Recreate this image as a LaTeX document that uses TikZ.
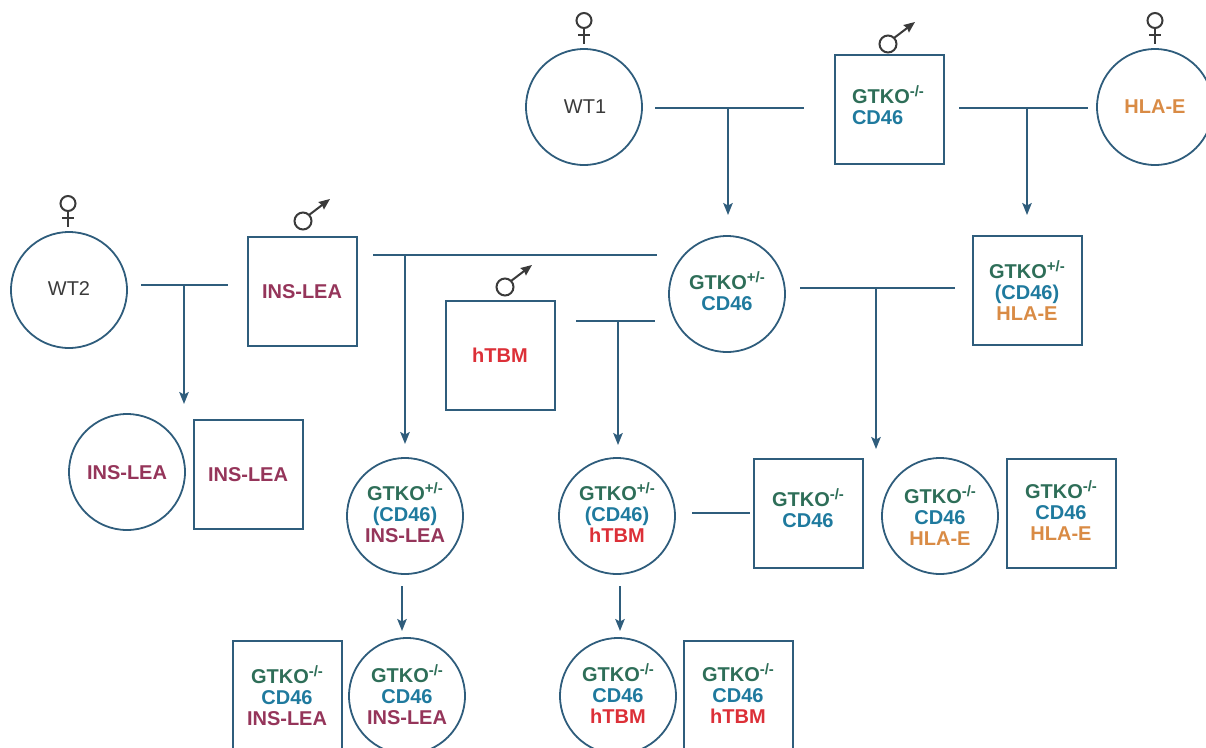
\documentclass[tikz,border=0pt]{standalone}
\usepackage{fontspec}
\setmainfont{Liberation Sans}
\usetikzlibrary{arrows.meta}
\definecolor{ln}{HTML}{2F5D7C}
\definecolor{gt}{HTML}{2E6E58}
\definecolor{cd}{HTML}{1F7A9E}
\definecolor{hla}{HTML}{D98B45}
\definecolor{ins}{HTML}{95355A}
\definecolor{tbm}{HTML}{DC3038}
\definecolor{sym}{HTML}{3A3A3A}
\tikzset{
 x=1pt,y=-1pt,
 base/.style={draw=ln,line width=1.8pt,inner sep=0pt},
 fem/.style={base,circle,minimum size=116pt},
 mal/.style={base,rectangle,minimum size=109pt},
 lab/.style={inner sep=0pt,align=center,font=\fontsize{20}{21}\selectfont\bfseries},
 plain/.style={inner sep=0pt,font=\fontsize{20}{21}\selectfont,text=sym},
 link/.style={ln,line width=1.8pt},
 arr/.style={ln,line width=1.8pt,-{Stealth[length=12pt,width=9.5pt,inset=2.5pt]}},
 symb/.style={sym,line width=2pt},
 pics/female/.style={code={\draw[symb] (0,-6.5) ellipse (7.5 and 7.5);\draw[symb] (0,1)--(0,17);\draw[symb] (-6,7.5)--(6,7.5);}},
 pics/male/.style={code={\draw[symb] (0,0) circle (8.5);\draw[symb,-{Stealth[length=11pt,width=9pt,inset=1pt]}] (6,-6)--(27,-22);}}
}
\newcommand{\gK}[1]{\textcolor{gt}{GTKO\raisebox{7pt}{\fontsize{15}{15}\selectfont #1}}}
\newcommand{\cD}{\textcolor{cd}{CD46}}
\newcommand{\pD}{\textcolor{cd}{(CD46)}}
\newcommand{\hL}{\textcolor{hla}{HLA-E}}
\newcommand{\iL}{\textcolor{ins}{INS-LEA}}
\newcommand{\hT}{\textcolor{tbm}{hTBM}}
\begin{document}
\begin{tikzpicture}
\useasboundingbox (0,0) rectangle (1206,747);
\clip (0,0) rectangle (1206,747);
% top row
\node[fem] (wt1) at (584,107) {};
\node[plain] (twt1) at (585,107) {WT1};
\node[mal] (b1) at (889.5,109.5) {};
\node[lab,align=left] (tb1) at (888,105.5) {\gK{-/-}\\\cD};
\node[fem] (hla) at (1155,107) {};
\node[lab] (thla) at (1155,107) {\hL};
\pic at (584,27) {female};
\pic at (1155,27) {female};
\pic at (888,44) {male};
% second row
\node[fem] (wt2) at (69,290) {};
\node[plain] (twt2) at (69,289) {WT2};
\node[mal] (b2) at (302.5,291.5) {};
\node[lab] (tb2) at (302,292) {\iL};
\node[mal] (tbm) at (500.5,355.5) {};
\node[lab] (ttbm) at (500,355) {\hT};
\node[fem] (c3) at (727,294) {};
\node[lab] (tc3) at (727,291.5) {\gK{+/-}\\\cD};
\node[mal] (b4) at (1027.5,290.5) {};
\node[lab] (tb4) at (1027,291) {\gK{+/-}\\\pD\\\hL};
\pic at (68,210) {female};
\pic at (303,221) {male};
\pic at (505,287) {male};
% third row
\node[fem] (c5) at (127,472) {};
\node[lab] (tc5) at (127,473) {\iL};
\node[mal] (b5) at (248.5,474.5) {};
\node[lab] (tb5) at (248,475) {\iL};
\node[fem] (c6) at (405,516) {};
\node[lab] (tc6) at (405,513) {\gK{+/-}\\\pD\\\iL};
\node[fem] (c7) at (617,516) {};
\node[lab] (tc7) at (617,513) {\gK{+/-}\\\pD\\\hT};
\node[mal] (b7) at (808.5,513.5) {};
\node[lab] (tb7) at (808,508.5) {\gK{-/-}\\\cD};
\node[fem] (c8) at (940,516) {};
\node[lab] (tc8) at (940,516) {\gK{-/-}\\\cD\\\hL};
\node[mal] (b8) at (1061.5,513.5) {};
\node[lab] (tb8) at (1061,511) {\gK{-/-}\\\cD\\\hL};
% bottom row
\node[mal] (b9) at (287.5,695.5) {};
\node[lab] (tb9) at (287,695.5) {\gK{-/-}\\\cD\\\iL};
\node[fem] (c9) at (407,696) {};
\node[lab] (tc9) at (407,695) {\gK{-/-}\\\cD\\\iL};
\node[fem] (c10) at (618,696) {};
\node[lab] (tc10) at (618,694) {\gK{-/-}\\\cD\\\hT};
\node[mal] (b10) at (738.5,695.5) {};
\node[lab] (tb10) at (738,694) {\gK{-/-}\\\cD\\\hT};
% connector ends
\coordinate (a1) at (655,108); \coordinate (a2) at (804,108); \coordinate (a3) at (728,108); \coordinate (a4) at (728,215);
\coordinate (d1) at (959,108); \coordinate (d2) at (1088,108); \coordinate (d3) at (1027,108); \coordinate (d4) at (1027,215);
\coordinate (e1) at (141,285); \coordinate (e2) at (228,285); \coordinate (e3) at (184,285); \coordinate (e4) at (184,404);
\coordinate (f1) at (373,255); \coordinate (f2) at (657,255); \coordinate (f3) at (405,255); \coordinate (f4) at (405,444);
\coordinate (g1) at (576,321); \coordinate (g2) at (655,321); \coordinate (g3) at (618,321); \coordinate (g4) at (618,445);
\coordinate (h1) at (800,288); \coordinate (h2) at (955,288); \coordinate (h3) at (876,288); \coordinate (h4) at (876,449);
\coordinate (i1) at (692,513); \coordinate (i2) at (750,513);
\coordinate (j1) at (402,586); \coordinate (j2) at (402,631);
\coordinate (k1) at (620,586); \coordinate (k2) at (620,631);
\draw[link] (a1)--(a2); \draw[arr] (a3)--(a4);
\draw[link] (d1)--(d2); \draw[arr] (d3)--(d4);
\draw[link] (e1)--(e2); \draw[arr] (e3)--(e4);
\draw[link] (f1)--(f2); \draw[arr] (f3)--(f4);
\draw[link] (g1)--(g2); \draw[arr] (g3)--(g4);
\draw[link] (h1)--(h2); \draw[arr] (h3)--(h4);
\draw[link] (i1)--(i2);
\draw[arr] (j1)--(j2);
\draw[arr] (k1)--(k2);
\end{tikzpicture}
\end{document}
